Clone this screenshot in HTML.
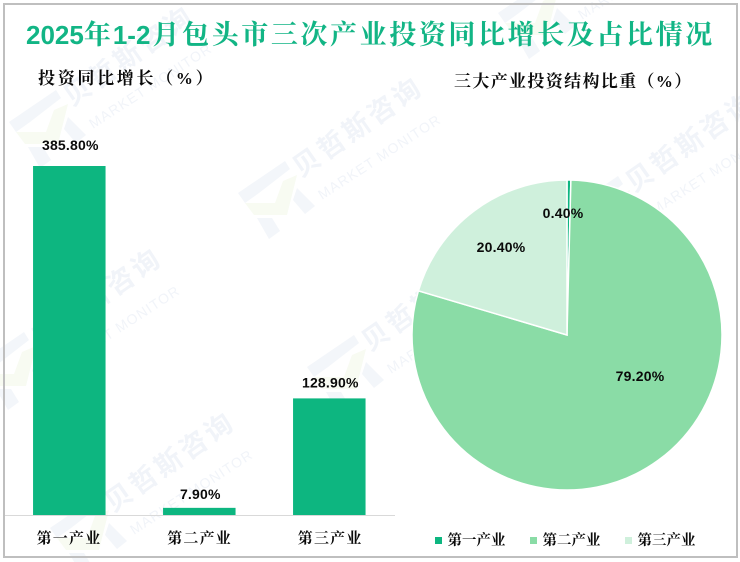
<!DOCTYPE html>
<html lang="zh-CN">
<head>
<meta charset="utf-8">
<title>2025年1-2月包头市三次产业投资同比增长及占比情况</title>
<style>
html,body{margin:0;padding:0;background:#fff;}
svg{display:block;}
.cjk{font-family:"Liberation Serif","Noto Serif CJK SC",serif;}
.val{font-family:"Liberation Sans","Noto Sans CJK SC",sans-serif;font-weight:700;font-size:14px;letter-spacing:.2px;fill:#0a0a0a;text-anchor:middle;}
</style>
</head>
<body>
<svg id="chart" xmlns="http://www.w3.org/2000/svg" width="740" height="562" viewBox="0 0 740 562">
  <rect x="0" y="0" width="740" height="562" fill="#ffffff"/>
  <g id="watermarks"></g>
  <rect x="4" y="4" width="733" height="553" fill="none" stroke="#bfbfbf" stroke-width="2"/>
  <text class="cjk" x="26" y="44" font-size="27" font-weight="700" fill="#12b585"><tspan font-family="Liberation Sans" font-size="26" letter-spacing="0">2025</tspan><tspan letter-spacing="2">年</tspan><tspan font-family="Liberation Sans" font-size="26" letter-spacing="0">1-2</tspan><tspan dx="2" letter-spacing="2.6">月包头市三次产业投资同比增长及占比情况</tspan></text>
  <text class="cjk" x="38" y="84" font-size="17" font-weight="700" letter-spacing="2.7" fill="#0a0a0a">投资同比增长（%）</text>
  <text class="cjk" x="454" y="87" font-size="17" font-weight="700" letter-spacing="1.35" fill="#0a0a0a">三大产业投资结构比重（%）</text>
  <g id="bars"></g>
  <line x1="5" y1="515.5" x2="395" y2="515.5" stroke="#d9d9d9" stroke-width="1"/>
  <g id="pie"></g>
  <g id="legend"></g>
</svg>
<script>
var categories = ['第一产业', '第二产业', '第三产业'];
var growthValues = [385.8, 7.9, 128.9];
var growthLabels = ['385.80%', '7.90%', '128.90%'];
var shareValues = [0.4, 79.2, 20.4];
var shareLabels = ['0.40%', '79.20%', '20.40%'];

var NS = 'http://www.w3.org/2000/svg';
function make(tag, attrs, parent, text) {
  var el = document.createElementNS(NS, tag);
  for (var k in attrs) el.setAttribute(k, attrs[k]);
  if (text !== undefined) el.textContent = text;
  parent.appendChild(el);
  return el;
}

/* watermark */
var wmLayer = document.getElementById('watermarks');
[[9,122],[238,193],[307,367],[-23,364],[50,528],[498,13],[571,208]].forEach(function (p) {
  var g = make('g', {transform: 'translate(' + p[0] + ',' + p[1] + ')'}, wmLayer);
  
  
  make('polygon', {points: '0,0 47,-32 52,-24 21,0 7,10', fill: '#f3f6fa'}, g);
  make('polygon', {points: '7,10 37,10 45,-12 59,-18 49,22 16,22', fill: '#f8fbf2'}, g);
  make('polygon', {points: '59,-5 77,13 67,21 55,7', fill: '#f3f6fa'}, g);
  make('polygon', {points: '19,25 34,25 42,38 31,46', fill: '#f3f6fa'}, g);
  make('text', {x: 63, y: -15, transform: 'rotate(-35 63 -15)', 'font-size': 27, 'font-weight': 700, 'letter-spacing': 3.4, fill: '#f1f4f9', 'font-family': '"Liberation Sans","Noto Sans CJK SC",sans-serif'}, g, '贝哲斯咨询');
  make('text', {x: 84, y: 7, transform: 'rotate(-33 84 7)', 'font-size': 14, 'letter-spacing': 1.1, fill: '#f1f4f9', 'font-family': '"Liberation Sans",sans-serif'}, g, 'MARKET MONITOR');
});

/* bars */
var barsLayer = document.getElementById('bars');
var baseY = 515, topY = 166, maxValue = 385.8;
var bandStart = 4.3, bandWidth = 130, barWidth = 72.5;
var labelGaps = [16, 9, 11];
function yScale(v) { return baseY - (v / maxValue) * (baseY - topY); }
function xCenter(i) { return bandStart + bandWidth * (i + 0.5); }

categories.forEach(function (name, i) {
  var y = yScale(growthValues[i]);
  var rect = make('rect', {x: xCenter(i) - barWidth / 2, y: y, width: barWidth, height: baseY - y, fill: '#0db680'}, barsLayer);
  
  
  var lab = make('text', {x: xCenter(i) + 1, y: y - labelGaps[i], 'class': 'val'}, barsLayer, growthLabels[i]);
  
  
  var tick = make('text', {x: xCenter(i) - 0.3 + i * 0.6, y: 543, 'class': 'cjk', 'font-size': 15, 'font-weight': 700, 'letter-spacing': 1.2, 'text-anchor': 'middle', fill: '#0a0a0a'}, barsLayer, name);
  
  
});

/* pie */
var pieLayer = document.getElementById('pie');
var cx = 567, cy = 335, r = 155;
var colors = ['#0db680', '#8adca6', '#cff0dc'];
var labelSpots = [[563, 218], [640, 381], [501, 252]];
var total = shareValues.reduce(function (a, b) { return a + b; }, 0);
var cum = 0;
function pt(frac, rad) {
  var a = frac * 2 * Math.PI - Math.PI / 2;
  return [cx + rad * Math.cos(a), cy + rad * Math.sin(a)];
}
shareValues.forEach(function (v, i) {
  var f0 = cum / total, f1 = (cum + v) / total;
  cum += v;
  var a = pt(f0, r), b = pt(f1, r);
  var d = 'M' + cx + ',' + cy + 'L' + a[0] + ',' + a[1] + 'A' + r + ',' + r + ' 0 ' + (f1 - f0 > 0.5 ? 1 : 0) + ' 1 ' + b[0] + ',' + b[1] + 'Z';
  var slice = make('path', {d: d, fill: colors[i], stroke: '#ffffff', 'stroke-width': 1.5}, pieLayer);
  
  
});
shareValues.forEach(function (v, i) {
  var lab = make('text', {x: labelSpots[i][0], y: labelSpots[i][1], 'class': 'val'}, pieLayer, shareLabels[i]);
  
  
});

/* legend */
var legendLayer = document.getElementById('legend');
categories.forEach(function (name, i) {
  var x = 435 + i * 95;
  var sw = make('rect', {x: x, y: 537, width: 7, height: 7, fill: colors[i]}, legendLayer);
  
  
  var t = make('text', {x: x + 12.5, y: 545, 'class': 'cjk', 'font-size': 14.5, 'font-weight': 700, fill: '#0a0a0a'}, legendLayer, name);
  
  
});
</script>
</body>
</html>
